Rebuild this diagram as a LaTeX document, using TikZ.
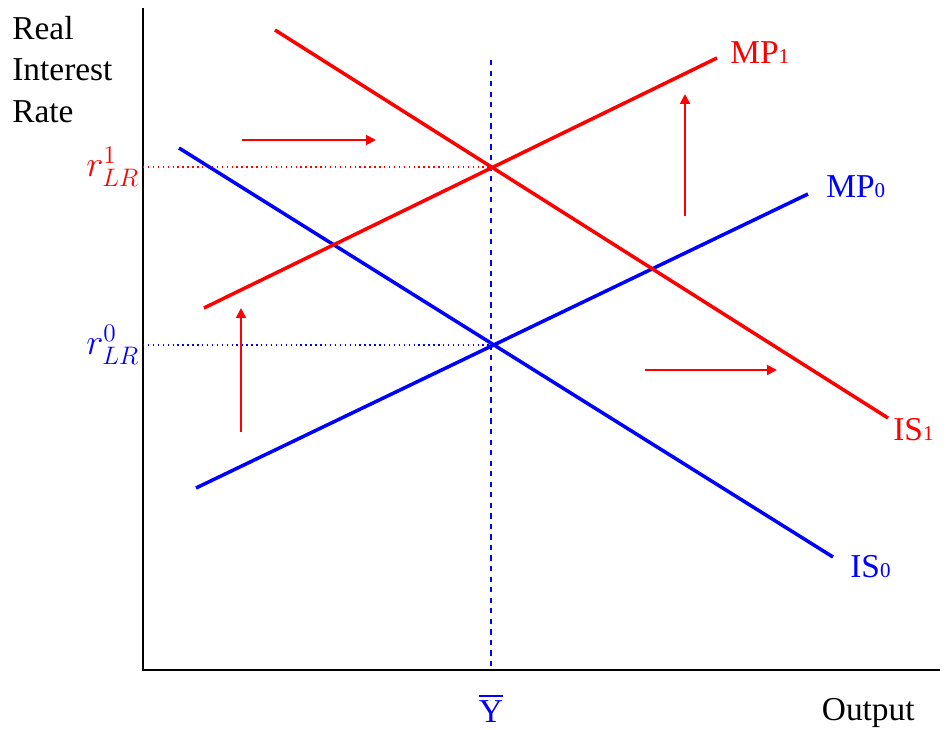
\documentclass[tikz,border=0pt]{standalone}
\usepackage{amsmath}
\usepackage{fontspec}
\setmainfont{Liberation Serif}
\usetikzlibrary{arrows.meta}

\newcommand{\lbl}[2]{#1{\fontsize{12}{12}\selectfont #2}}

\begin{document}
\begin{tikzpicture}[x=0.02cm, y=-0.02cm, every node/.style={font=\fontsize{19}{23.5}\selectfont}, >={Triangle[length=2mm, width=2mm]}]
	\useasboundingbox (0,0) rectangle (948,730);
	% axes
	\coordinate (top) at (143,8);
	\coordinate (origin) at (143,670);
	\coordinate (right) at (940,670);
	\draw[line width=1.6pt] (top) -- (origin) -- (right);
	\node[anchor=north west, align=left, inner sep=0pt] (ylab) at (12,16) {Real\\Interest\\Rate};
	\node[anchor=base east, inner sep=0pt] (xlab) at (915,720) {Output};
	% equilibria
	\coordinate (E1) at (491,167);
	\coordinate (E0) at (491,345);
	\draw[blue, dashed, thick] (491,60) coordinate (ytop) -- (491,670) coordinate (ybot);
	\node[blue, anchor=base, inner sep=0pt] (ybar) at (491,722) {$\overline{\text{Y}}$};
	\draw[red, dotted, thick] (143,167) coordinate (r1) -- (E1);
	\draw[blue, dotted, thick] (143,345) coordinate (r0) -- (E0);
	\node[red, anchor=east, inner sep=2pt, font=\fontsize{22}{22}\selectfont] (r1lab) at (r1) {$r^1_{LR}$};
	\node[blue, anchor=east, inner sep=2pt, font=\fontsize{22}{22}\selectfont] (r0lab) at (r0) {$r^0_{LR}$};
	% curves
	\draw[blue, line width=2pt] (179,148) coordinate (is0a) -- (833,557) coordinate (is0b);
	\draw[blue, line width=2pt] (196,488) coordinate (mp0a) -- (808,194) coordinate (mp0b);
	\draw[red, line width=2pt] (275,30) coordinate (is1a) -- (888,418) coordinate (is1b);
	\draw[red, line width=2pt] (204,308) coordinate (mp1a) -- (717,58) coordinate (mp1b);
	\node[blue, anchor=base west, inner sep=0pt] (is0lab) at (850,577) {\lbl{IS}{0}};
	\node[blue, anchor=base west, inner sep=0pt] (mp0lab) at (826,197) {\lbl{MP}{0}};
	\node[red, anchor=base west, inner sep=0pt] (is1lab) at (893,440) {\lbl{IS}{1}};
	\node[red, anchor=base west, inner sep=0pt] (mp1lab) at (730,63) {\lbl{MP}{1}};
	% shifts
	\draw[->, red, line width=1.1pt] (242,140) -- (376,140);
	\draw[->, red, line width=1.1pt] (645,370) -- (777,370);
	\draw[->, red, line width=1.1pt] (241,432) -- (241,308);
	\draw[->, red, line width=1.1pt] (685,216) -- (685,94);
\end{tikzpicture}
\end{document}
